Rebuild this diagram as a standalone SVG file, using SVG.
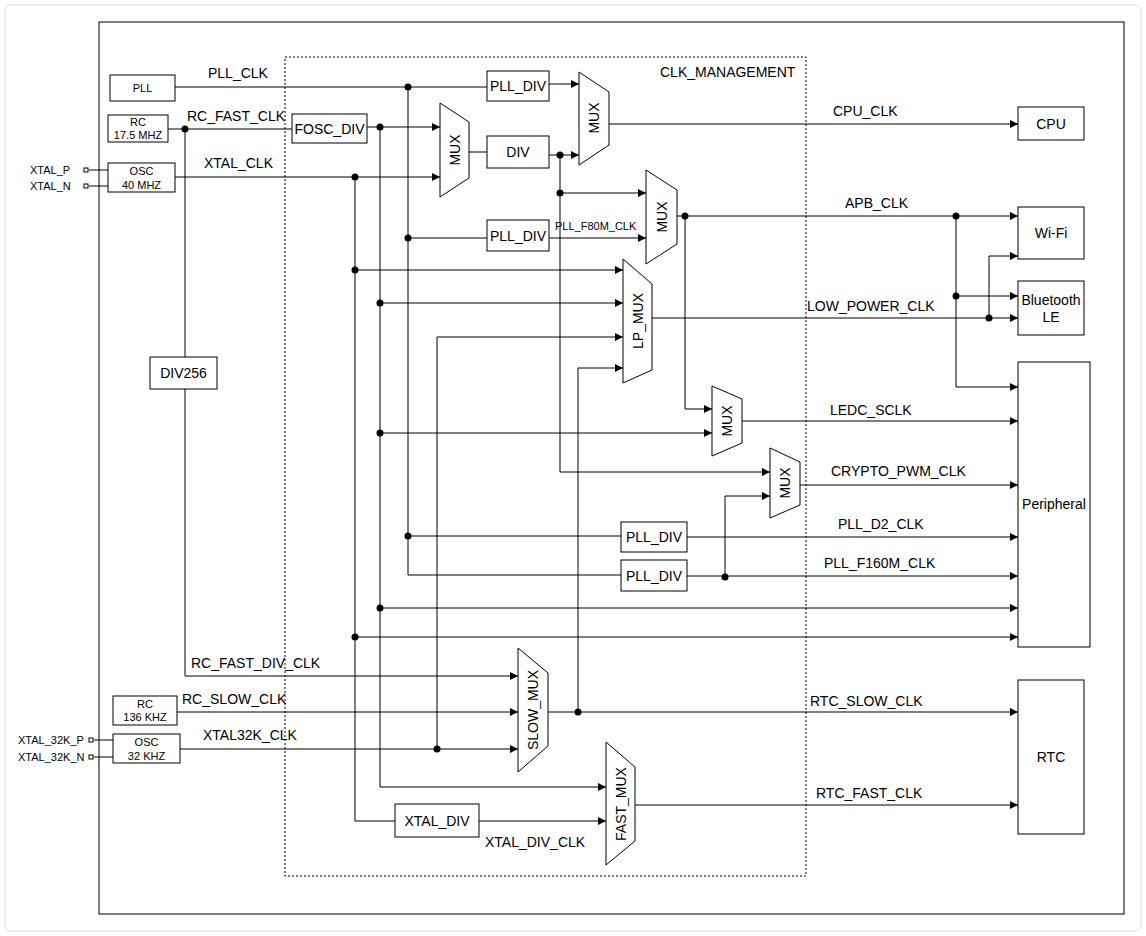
<svg xmlns="http://www.w3.org/2000/svg" width="1146" height="936" viewBox="0 0 1146 936">
<defs>
<marker id="a" viewBox="0 0 10 10" refX="10" refY="5" markerWidth="8" markerHeight="8" markerUnits="userSpaceOnUse" orient="auto"><path d="M0,0 L10,5 L0,10 z" fill="#000"/></marker>
<style>
text{font-family:"Liberation Sans",Arial,sans-serif;fill:#000}
.l{font-size:14px}
.s{font-size:11px}
.b{font-size:14px;text-anchor:middle;dominant-baseline:central}
.bs{font-size:11px;text-anchor:middle}
.box{fill:#fff;stroke:#000;stroke-width:1}
.mux{fill:#fff;stroke:#000;stroke-width:1}
#conn path{fill:none;stroke:#000;stroke-width:1}
.ar{marker-end:url(#a)}
.pin{fill:#fff;stroke:#000;stroke-width:1}
</style>
</defs>
<rect x="5" y="5" width="1136" height="926" rx="6" fill="#fff" stroke="#ddd"/>
<rect x="99" y="22" width="1025" height="892" fill="none" stroke="#000"/>
<g id="clk_management">
<rect x="285" y="57" width="521" height="819" fill="none" stroke="#000" stroke-dasharray="2,2"/>
<text class="l" x="660" y="77">CLK_MANAGEMENT</text>
</g>
<g id="conn">
<path d="M175,87 H487"/>
<path class="ar" d="M549,84 H579"/>
<path d="M168,129 H292"/>
<path class="ar" d="M367,127 H440"/>
<path class="ar" d="M175,177 H440"/>
<path d="M469,152 H487"/>
<path class="ar" d="M549,155 H579"/>
<path class="ar" d="M609,124 H1018"/>
<path d="M408,87 V575 H621"/>
<path d="M380,127 V787"/>
<path class="ar" d="M380,787 H606"/>
<path d="M355,177 V821 H395"/>
<path class="ar" d="M479,821 H606"/>
<path d="M185,129 V357"/>
<path class="ar" d="M185,389 V676 H518"/>
<path class="ar" d="M560,155 V472 H770"/>
<path class="ar" d="M560,193 H646"/>
<path d="M408,238 H487"/>
<path class="ar" d="M549,238 H646"/>
<path class="ar" d="M677,216 H1018"/>
<path class="ar" d="M956,216 V387 H1018"/>
<path class="ar" d="M956,296 H1018"/>
<path class="ar" d="M652,318 H1018"/>
<path class="ar" d="M989,318 V256 H1018"/>
<path class="ar" d="M355,270 H623"/>
<path class="ar" d="M380,303 H623"/>
<path class="ar" d="M437,749 V337 H623"/>
<path class="ar" d="M578,712 V368 H623"/>
<path class="ar" d="M685,216 V409 H712"/>
<path class="ar" d="M380,433 H712"/>
<path class="ar" d="M742,421 H1018"/>
<path class="ar" d="M725,577 V496 H770"/>
<path class="ar" d="M800,485 H1018"/>
<path d="M408,536 H621"/>
<path class="ar" d="M687,537 H1018"/>
<path class="ar" d="M687,576 H1018"/>
<path class="ar" d="M380,608 H1018"/>
<path class="ar" d="M355,637 H1018"/>
<path class="ar" d="M177,712 H518"/>
<path class="ar" d="M180,749 H518"/>
<path class="ar" d="M548,712 H1018"/>
<path class="ar" d="M635,805 H1018"/>
<path d="M89,170 H108 M89,186 H108 M94,740 H113 M94,757 H113"/>
<g fill="#000">
<circle cx="408" cy="87" r="3.5"/><circle cx="185" cy="129" r="3.5"/><circle cx="380" cy="127" r="3.5"/>
<circle cx="355" cy="177" r="3.5"/><circle cx="560" cy="155" r="3.5"/><circle cx="560" cy="193" r="3.5"/>
<circle cx="408" cy="238" r="3.5"/><circle cx="685" cy="216" r="3.5"/><circle cx="956" cy="216" r="3.5"/>
<circle cx="956" cy="296" r="3.5"/><circle cx="989" cy="318" r="3.5"/><circle cx="355" cy="270" r="3.5"/>
<circle cx="380" cy="303" r="3.5"/><circle cx="380" cy="433" r="3.5"/><circle cx="408" cy="536" r="3.5"/>
<circle cx="725" cy="577" r="3.5"/><circle cx="380" cy="608" r="3.5"/><circle cx="355" cy="637" r="3.5"/>
<circle cx="578" cy="712" r="3.5"/><circle cx="437" cy="749" r="3.5"/>
</g>
<text class="l" x="208" y="78">PLL_CLK</text>
<text class="l" x="187" y="121">RC_FAST_CLK</text>
<text class="l" x="204" y="168">XTAL_CLK</text>
<text class="s" x="555" y="230">PLL_F80M_CLK</text>
<text class="l" x="833" y="116">CPU_CLK</text>
<text class="l" x="845" y="208">APB_CLK</text>
<text class="l" x="807" y="311">LOW_POWER_CLK</text>
<text class="l" x="830" y="415">LEDC_SCLK</text>
<text class="l" x="831" y="476">CRYPTO_PWM_CLK</text>
<text class="l" x="838" y="529">PLL_D2_CLK</text>
<text class="l" x="824" y="568">PLL_F160M_CLK</text>
<text class="l" x="191" y="668">RC_FAST_DIV_CLK</text>
<text class="l" x="182" y="704">RC_SLOW_CLK</text>
<text class="l" x="203" y="740">XTAL32K_CLK</text>
<text class="l" x="810" y="706">RTC_SLOW_CLK</text>
<text class="l" x="816" y="798">RTC_FAST_CLK</text>
<text class="l" x="485" y="847">XTAL_DIV_CLK</text>
</g>
<g id="pins">
<rect class="pin" x="84" y="168" width="4" height="4"/><rect class="pin" x="84" y="184" width="4" height="4"/>
<rect class="pin" x="89" y="738" width="4" height="4"/><rect class="pin" x="89" y="755" width="4" height="4"/>
<text class="s" x="30" y="174" font-size="10">XTAL_P</text>
<text class="s" x="30" y="190" font-size="10">XTAL_N</text>
<text class="s" x="18" y="744">XTAL_32K_P</text>
<text class="s" x="18" y="761">XTAL_32K_N</text>
</g>
<g id="pll"><rect class="box" x="110" y="75" width="65" height="26"/><text class="bs" x="142.5" y="92">PLL</text></g>
<g id="rc_fast"><rect class="box" x="108" y="115" width="60" height="27"/><text class="bs" x="138" y="126">RC</text><text class="bs" x="138" y="139">17.5 MHZ</text></g>
<g id="osc40"><rect class="box" x="108" y="163" width="67" height="29"/><text class="bs" x="141.5" y="175">OSC</text><text class="bs" x="141.5" y="189">40 MHZ</text></g>
<g id="div256"><rect class="box" x="150" y="357" width="67" height="32"/><text class="b" x="183.5" y="373">DIV256</text></g>
<g id="rc136"><rect class="box" x="113" y="696" width="64" height="29"/><text class="bs" x="145" y="708">RC</text><text class="bs" x="145" y="721">136 KHZ</text></g>
<g id="osc32"><rect class="box" x="113" y="734" width="67" height="29"/><text class="bs" x="146.5" y="746">OSC</text><text class="bs" x="146.5" y="760">32 KHZ</text></g>
<g id="pll_div1"><rect class="box" x="487" y="71" width="62" height="30"/><text class="b" x="518" y="86">PLL_DIV</text></g>
<g id="fosc_div"><rect class="box" x="292" y="114" width="75" height="29"/><text class="b" x="329.5" y="128.5">FOSC_DIV</text></g>
<g id="div"><rect class="box" x="487" y="136" width="62" height="32"/><text class="b" x="518" y="152">DIV</text></g>
<g id="pll_div2"><rect class="box" x="487" y="220" width="62" height="31"/><text class="b" x="518" y="235.5">PLL_DIV</text></g>
<g id="pll_div3"><rect class="box" x="621" y="522" width="66" height="30"/><text class="b" x="654" y="537">PLL_DIV</text></g>
<g id="pll_div4"><rect class="box" x="621" y="560" width="66" height="31"/><text class="b" x="654" y="575.5">PLL_DIV</text></g>
<g id="xtal_div"><rect class="box" x="395" y="804" width="84" height="33"/><text class="b" x="437" y="820.5">XTAL_DIV</text></g>
<g id="mux1"><path class="mux" d="M440,103 L469,122 L469,178 L440,197 Z"/><text class="b" transform="translate(455,150) rotate(-90)">MUX</text></g>
<g id="mux2"><path class="mux" d="M579,72 L609,92 L609,145 L579,165 Z"/><text class="b" transform="translate(594,118) rotate(-90)">MUX</text></g>
<g id="mux3"><path class="mux" d="M646,170 L677,190 L677,244 L646,264 Z"/><text class="b" transform="translate(661.5,217) rotate(-90)">MUX</text></g>
<g id="lp_mux"><path class="mux" d="M623,259 L652,284 L652,370 L623,383 Z"/><text class="b" transform="translate(637.5,321) rotate(-90)">LP_MUX</text></g>
<g id="mux_ledc"><path class="mux" d="M712,386 L742,399 L742,443 L712,456 Z"/><text class="b" transform="translate(727,421) rotate(-90)">MUX</text></g>
<g id="mux_crypto"><path class="mux" d="M770,448 L800,462 L800,505 L770,518 Z"/><text class="b" transform="translate(785,483) rotate(-90)">MUX</text></g>
<g id="slow_mux"><path class="mux" d="M518,648 L548,673 L548,746 L518,772 Z"/><text class="b" transform="translate(533,710) rotate(-90)">SLOW_MUX</text></g>
<g id="fast_mux"><path class="mux" d="M606,742 L635,767 L635,841 L606,865 Z"/><text class="b" transform="translate(620.5,804) rotate(-90)">FAST_MUX</text></g>
<g id="cpu"><rect class="box" x="1018" y="107" width="66" height="33"/><text class="b" x="1051" y="123.5">CPU</text></g>
<g id="wifi"><rect class="box" x="1018" y="207" width="66" height="52"/><text class="b" x="1051" y="233">Wi-Fi</text></g>
<g id="ble"><rect class="box" x="1018" y="281" width="66" height="54"/><text class="b" x="1051" y="300">Bluetooth</text><text class="b" x="1051" y="317">LE</text></g>
<g id="peripheral"><rect class="box" x="1018" y="362" width="72" height="285"/><text class="b" x="1054" y="504">Peripheral</text></g>
<g id="rtc"><rect class="box" x="1018" y="680" width="66" height="154"/><text class="b" x="1051" y="757">RTC</text></g>
</svg>
